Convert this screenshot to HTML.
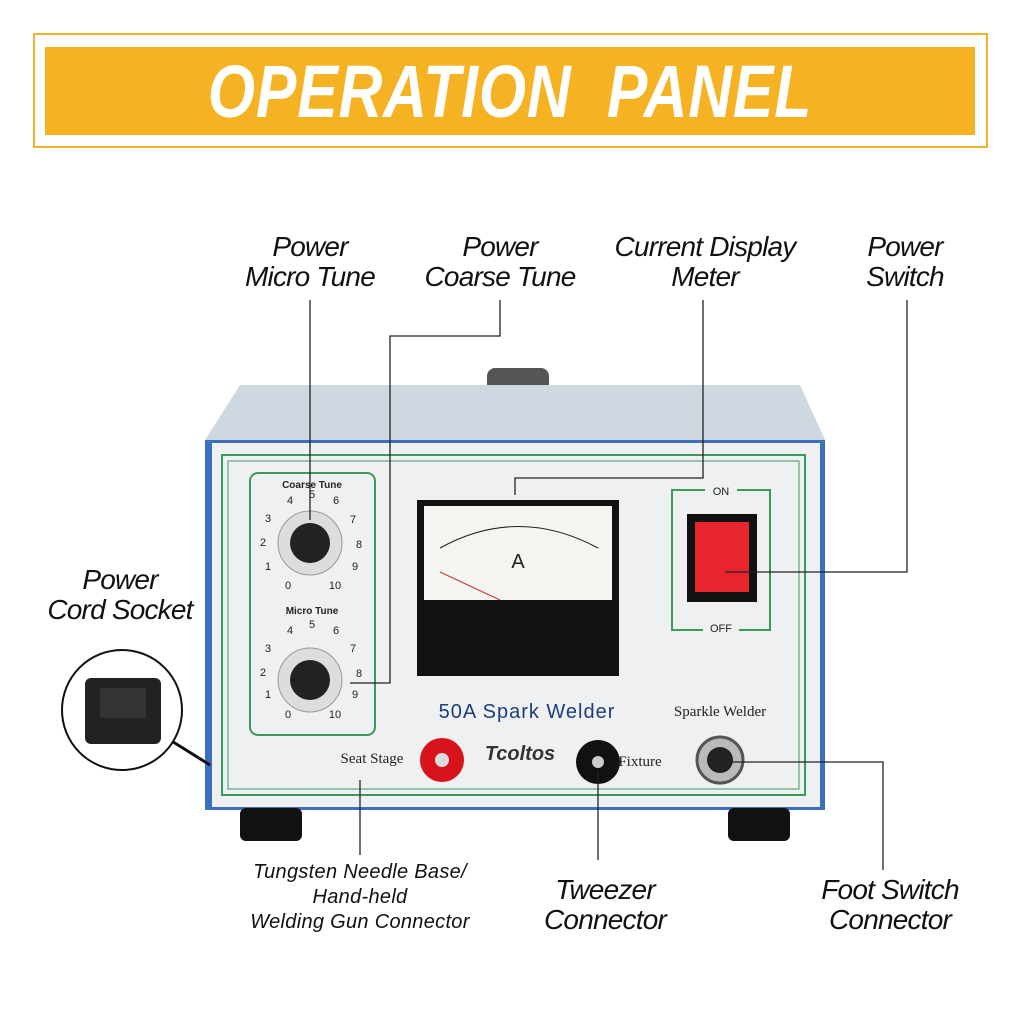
<!DOCTYPE html>
<html><head><meta charset="utf-8"><style>
body{margin:0;width:1024px;height:1024px;background:#fff;position:relative;overflow:hidden;font-family:"Liberation Sans",sans-serif}
.a{position:absolute}
.lbl{position:absolute;font-style:italic;color:#111;text-align:center;line-height:30px;font-size:28px;letter-spacing:-0.8px}
</style></head><body>
<div class="a" style="left:33px;top:33px;width:951px;height:111px;border:2px solid #f2b229"></div>
<div class="a" style="left:45px;top:47px;width:930px;height:88px;background:#f5b324"></div>
<div class="a" style="left:45px;top:47px;width:930px;height:88px;color:#fff;font-weight:bold;font-style:italic;font-size:74px;line-height:90px;text-align:center;letter-spacing:1px;transform:scaleX(0.82)">OPERATION&nbsp; PANEL</div>

<div class="lbl" style="left:225px;top:232px;width:170px">Power<br>Micro Tune</div>
<div class="lbl" style="left:405px;top:232px;width:190px">Power<br>Coarse Tune</div>
<div class="lbl" style="left:595px;top:232px;width:220px">Current Display<br>Meter</div>
<div class="lbl" style="left:840px;top:232px;width:130px">Power<br>Switch</div>
<div class="lbl" style="left:30px;top:565px;width:180px">Power<br>Cord Socket</div>
<div class="lbl" style="left:225px;top:860px;width:270px;font-size:20px;line-height:25px;letter-spacing:0.3px">Tungsten Needle Base/<br>Hand-held<br>Welding Gun Connector</div>
<div class="lbl" style="left:515px;top:875px;width:180px">Tweezer<br>Connector</div>
<div class="lbl" style="left:795px;top:875px;width:190px">Foot Switch<br>Connector</div>

<svg class="a" style="left:0;top:0" width="1024" height="1024">
<rect x="487" y="368" width="62" height="70" rx="8" fill="#555"/>
<rect x="485" y="393" width="64" height="40" fill="#b5b5b0"/>
<polygon points="240,385 800,385 825,440 205,440" fill="#cfd7e0"/>
<rect x="205" y="440" width="620" height="370" fill="#3b6fc0"/>
<rect x="212" y="443" width="608" height="364" fill="#eef0f2"/>
<rect x="222" y="455" width="583" height="340" fill="none" stroke="#3a9a5a" stroke-width="2"/>
<rect x="228" y="461" width="571" height="328" fill="none" stroke="#3a9a5a" stroke-width="1"/>
<rect x="240" y="808" width="62" height="33" rx="6" fill="#111"/>
<rect x="728" y="808" width="62" height="33" rx="6" fill="#111"/>
<rect x="250" y="473" width="125" height="262" rx="8" fill="none" stroke="#3a9a5a" stroke-width="2"/>
<text x="312" y="488" font-size="10" text-anchor="middle" font-weight="bold" fill="#222">Coarse Tune</text>
<text x="312" y="614" font-size="10" text-anchor="middle" font-weight="bold" fill="#222">Micro Tune</text>
<circle cx="310" cy="543" r="32" fill="#ddd" stroke="#999"/>
<circle cx="310" cy="543" r="20" fill="#222"/>
<circle cx="310" cy="680" r="32" fill="#ddd" stroke="#999"/>
<circle cx="310" cy="680" r="20" fill="#222"/>
<g font-size="11" fill="#222" text-anchor="middle">
<text x="290" y="504">4</text><text x="312" y="498">5</text><text x="336" y="504">6</text><text x="353" y="523">7</text><text x="359" y="548">8</text><text x="355" y="570">9</text><text x="335" y="589">10</text><text x="288" y="589">0</text><text x="268" y="570">1</text><text x="263" y="546">2</text><text x="268" y="522">3</text>
<text x="290" y="634">4</text><text x="312" y="628">5</text><text x="336" y="634">6</text><text x="353" y="652">7</text><text x="359" y="677">8</text><text x="355" y="698">9</text><text x="335" y="718">10</text><text x="288" y="718">0</text><text x="268" y="698">1</text><text x="263" y="676">2</text><text x="268" y="652">3</text>
</g>
<rect x="417" y="500" width="202" height="176" fill="#111"/>
<rect x="424" y="506" width="188" height="94" fill="#f4f4f0"/>
<path d="M440,548 Q518,505 598,548" fill="none" stroke="#222"/>
<text x="518" y="568" font-size="20" text-anchor="middle" fill="#222">A</text>
<line x1="440" y1="572" x2="500" y2="600" stroke="#c33"/>
<rect x="672" y="490" width="98" height="140" fill="none" stroke="#3a9a5a" stroke-width="2"/>
<rect x="705" y="484" width="32" height="12" fill="#eef0f2"/><text x="721" y="495" font-size="11" text-anchor="middle" fill="#222">ON</text>
<rect x="703" y="622" width="36" height="14" fill="#eef0f2"/><text x="721" y="632" font-size="11" text-anchor="middle" fill="#222">OFF</text>
<rect x="687" y="514" width="70" height="88" fill="#111"/>
<rect x="695" y="522" width="54" height="70" fill="#e8242c"/>
<text x="527" y="718" font-size="20" text-anchor="middle" fill="#1e3c7c" letter-spacing="1">50A Spark Welder</text>
<text x="720" y="716" font-size="15" text-anchor="middle" fill="#222" font-family="Liberation Serif">Sparkle Welder</text>
<text x="372" y="763" font-size="15" text-anchor="middle" fill="#222" font-family="Liberation Serif">Seat Stage</text>
<text x="640" y="766" font-size="15" text-anchor="middle" fill="#222" font-family="Liberation Serif">Fixture</text>
<text x="520" y="760" font-size="20" text-anchor="middle" fill="#333" font-weight="bold" font-style="italic">Tcoltos</text>
<circle cx="442" cy="760" r="22" fill="#d8131b"/><circle cx="442" cy="760" r="7" fill="#ddd"/>
<circle cx="598" cy="762" r="22" fill="#111"/><circle cx="598" cy="762" r="6" fill="#ccc"/>
<circle cx="720" cy="760" r="23" fill="#bbb" stroke="#555" stroke-width="3"/><circle cx="720" cy="760" r="13" fill="#222"/>
<line x1="170" y1="740" x2="210" y2="765" stroke="#111" stroke-width="3"/>
<circle cx="122" cy="710" r="60" fill="#fff" stroke="#111" stroke-width="2"/>
<rect x="85" y="678" width="76" height="66" rx="6" fill="#222"/>
<rect x="100" y="688" width="46" height="30" fill="#333"/>
<g stroke="#222" stroke-width="1.3" fill="none">
<polyline points="310,300 310,520"/>
<polyline points="500,300 500,336 390,336 390,683 350,683"/>
<polyline points="703,300 703,478 515,478 515,495"/>
<polyline points="907,300 907,572 725,572"/>
<polyline points="360,780 360,855"/>
<polyline points="598,770 598,860"/>
<polyline points="725,762 883,762 883,870"/>
</g>
</svg>
</body></html>
